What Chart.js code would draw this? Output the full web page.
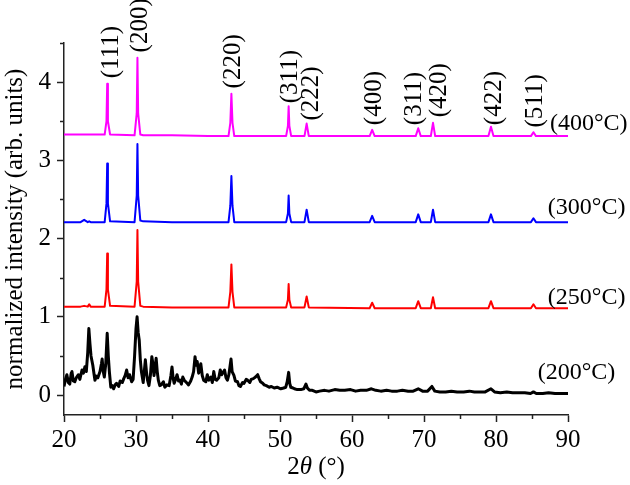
<!DOCTYPE html>
<html>
<head>
<meta charset="utf-8">
<script src="https://cdn.jsdelivr.net/npm/chart.js@4.4.1/dist/chart.umd.min.js"></script>
<style>
    html, body { margin: 0; padding: 0; background: #ffffff; }
    #wrap { width: 630px; height: 485px; position: relative; }
</style>
</head>
<body>
<div id="wrap"><canvas id="xrdChart"></canvas></div>
<script>
// shared 2-theta grid for the crystalline patterns (250, 300, 400 °C)
const twoThetaCryst = [20.0, 22.3, 22.8, 23.3, 23.5, 23.7, 25.65, 25.9, 26.0, 26.1, 26.4,
    29.8, 30.1, 30.2, 30.3, 30.6, 31.0, 35.0, 40.0, 42.85, 43.1, 43.25, 43.4, 43.65,
    50.85, 51.1, 51.2, 51.3, 51.55, 53.4, 53.7, 54.0, 62.45, 62.8, 63.15, 68.85, 69.2, 69.55,
    70.95, 71.25, 71.55, 78.95, 79.3, 79.65, 84.85, 85.2, 85.55, 90.0];

const int400 = [3.33, 3.33, 3.33, 3.33, 3.33, 3.33, 3.33, 3.50, 3.98, 3.50, 3.33,
    3.32, 3.60, 4.31, 3.60, 3.33, 3.32, 3.32, 3.31, 3.31, 3.48, 3.85, 3.48, 3.31,
    3.31, 3.44, 3.69, 3.44, 3.31, 3.31, 3.47, 3.31, 3.31, 3.39, 3.31, 3.31, 3.41, 3.31,
    3.31, 3.48, 3.31, 3.31, 3.43, 3.31, 3.31, 3.36, 3.31, 3.31];

const int300 = [2.21, 2.21, 2.24, 2.21, 2.22, 2.21, 2.21, 2.45, 2.96, 2.45, 2.22,
    2.21, 2.55, 3.21, 2.55, 2.23, 2.22, 2.21, 2.21, 2.21, 2.42, 2.80, 2.42, 2.21,
    2.21, 2.32, 2.55, 2.32, 2.21, 2.21, 2.37, 2.21, 2.21, 2.29, 2.21, 2.21, 2.31, 2.21,
    2.21, 2.37, 2.21, 2.21, 2.31, 2.21, 2.21, 2.26, 2.21, 2.21];

const int250 = [1.13, 1.13, 1.14, 1.13, 1.16, 1.13, 1.13, 1.35, 1.81, 1.35, 1.14,
    1.13, 1.45, 2.11, 1.45, 1.14, 1.13, 1.12, 1.12, 1.12, 1.32, 1.67, 1.32, 1.12,
    1.12, 1.22, 1.42, 1.22, 1.12, 1.12, 1.26, 1.12, 1.11, 1.18, 1.11, 1.11, 1.20, 1.11,
    1.11, 1.25, 1.11, 1.11, 1.20, 1.11, 1.11, 1.16, 1.11, 1.11];

// 200 °C pattern (poorly crystallised, noisy)
const twoTheta200 = [20.0, 20.2, 20.4, 20.6, 20.8, 21.0, 21.1, 21.3, 21.5, 21.7, 22.0, 22.2,
    22.5, 22.7, 22.9, 23.1, 23.3, 23.45, 23.6, 23.75, 24.0, 24.2, 24.3, 24.5, 24.7, 25.0,
    25.2, 25.3, 25.45, 25.6, 25.8, 26.0, 26.15, 26.3, 26.5, 26.7, 26.9, 27.1, 27.3, 27.6,
    27.8, 28.1, 28.3, 28.5, 28.7, 28.9, 29.1, 29.4, 29.6, 29.8, 30.0, 30.15, 30.3, 30.45,
    30.6, 30.75, 31.0, 31.2, 31.3, 31.45, 31.6, 31.8, 32.0, 32.2, 32.35, 32.5, 32.65, 32.8,
    32.95, 33.1, 33.3, 33.5, 33.8, 34.0, 34.3, 34.6, 34.85, 35.0, 35.15, 35.3, 35.5, 35.7,
    35.9, 36.1, 36.3, 36.5, 36.7, 36.9, 37.1, 37.3, 37.6, 37.8, 38.0, 38.2, 38.35, 38.5,
    38.7, 38.8, 39.0, 39.2, 39.4, 39.7, 39.9, 40.1, 40.4, 40.6, 40.8, 41.0, 41.2, 41.5,
    41.7, 41.9, 42.1, 42.3, 42.5, 42.7, 42.9, 43.2, 43.35, 43.6, 43.8, 44.1, 44.3, 44.5,
    44.8, 45.0, 45.3, 45.5, 45.8, 46.0, 46.3, 46.6, 46.9, 47.1, 47.3, 47.6, 47.8, 48.1,
    48.5, 48.8, 49.2, 49.6, 50.1, 50.5, 50.8, 51.0, 51.2, 51.35, 51.5, 51.8, 52.0, 52.4,
    52.9, 53.3, 53.6, 53.8, 54.1, 54.5, 55.0, 55.5, 56.2, 56.8, 57.6, 58.3, 59.0, 59.8,
    60.5, 61.2, 62.0, 62.7, 63.3, 64.0, 64.8, 65.5, 66.3, 67.0, 67.8, 68.5, 69.2, 69.8,
    70.5, 71.1, 71.5, 72.2, 73.0, 73.8, 74.6, 75.5, 76.3, 77.0, 77.8, 78.5, 79.3, 79.8,
    80.6, 81.5, 82.3, 83.2, 84.0, 84.8, 85.2, 85.6, 86.5, 87.3, 88.2, 89.0, 90.0];

const int200 = [0.11, 0.20, 0.26, 0.16, 0.14, 0.28, 0.30, 0.18, 0.17, 0.22, 0.26, 0.20,
    0.32, 0.28, 0.36, 0.30, 0.55, 0.85, 0.66, 0.50, 0.38, 0.25, 0.19, 0.24, 0.22, 0.30,
    0.40, 0.46, 0.30, 0.23, 0.40, 0.79, 0.50, 0.30, 0.10, 0.12, 0.08, 0.13, 0.15, 0.11,
    0.18, 0.16, 0.21, 0.25, 0.32, 0.22, 0.26, 0.17, 0.20, 0.49, 0.85, 1.00, 0.80, 0.70,
    0.45, 0.30, 0.16, 0.35, 0.45, 0.30, 0.19, 0.12, 0.25, 0.49, 0.40, 0.25, 0.35, 0.47,
    0.30, 0.19, 0.12, 0.13, 0.17, 0.10, 0.13, 0.12, 0.25, 0.36, 0.22, 0.15, 0.20, 0.26,
    0.18, 0.19, 0.14, 0.23, 0.19, 0.17, 0.15, 0.13, 0.18, 0.23, 0.30, 0.49, 0.38, 0.43,
    0.28, 0.30, 0.40, 0.25, 0.19, 0.17, 0.26, 0.19, 0.23, 0.16, 0.30, 0.20, 0.19, 0.22,
    0.32, 0.26, 0.29, 0.32, 0.22, 0.19, 0.26, 0.46, 0.30, 0.25, 0.18, 0.17, 0.12, 0.11,
    0.16, 0.15, 0.20, 0.19, 0.16, 0.20, 0.21, 0.23, 0.26, 0.21, 0.17, 0.15, 0.13, 0.12,
    0.10, 0.11, 0.09, 0.10, 0.08, 0.09, 0.10, 0.17, 0.29, 0.15, 0.10, 0.09, 0.08, 0.07,
    0.07, 0.08, 0.14, 0.09, 0.06, 0.06, 0.04, 0.05, 0.06, 0.05, 0.07, 0.06, 0.06, 0.07,
    0.05, 0.06, 0.06, 0.08, 0.06, 0.05, 0.06, 0.05, 0.05, 0.06, 0.05, 0.05, 0.08, 0.05,
    0.05, 0.11, 0.05, 0.04, 0.04, 0.05, 0.04, 0.04, 0.05, 0.04, 0.04, 0.04, 0.08, 0.04,
    0.03, 0.04, 0.03, 0.03, 0.03, 0.02, 0.04, 0.02, 0.02, 0.03, 0.02, 0.02, 0.02];

// reflection labels (Miller indices), drawn vertically
const peakLabels = ['(111)', '(200)', '(220)', '(311)', '(222)', '(400)', '(311)', '(420)', '(422)', '(511)'];
const peakLabelX = [26.65, 30.6, 43.6, 51.5, 54.3, 63.1, 68.7, 72.2, 79.8, 85.5];
const peakLabelBase = [4.05, 4.38, 3.92, 3.73, 3.51, 3.45, 3.45, 3.55, 3.45, 3.42];

// temperature labels at the right end of each pattern
const tempLabels = ['(400°C)', '(300°C)', '(250°C)', '(200°C)'];
const tempLabelX = [87.5, 87.2, 87.2, 85.8];
const tempLabelY = [3.47, 2.40, 1.25, 0.28];

const xMinorTicks = [25, 35, 45, 55, 65, 75, 85];
const yMinorTicks = [0.5, 1.5, 2.5, 3.5, 4.5];

const serif = "'Liberation Serif', 'Times New Roman', serif";
const fontSize = 25;
const axisColor = '#222222';

function toPoints(xs, ys) {
    return xs.map((x, i) => ({ x: x, y: ys[i] }));
}

const annotationsPlugin = {
    id: 'xrdAnnotations',
    afterDraw(chart) {
        const ctx = chart.ctx;
        const xs = chart.scales.x;
        const ys = chart.scales.y;
        const area = chart.chartArea;

        ctx.save();
        // minor ticks
        ctx.strokeStyle = axisColor;
        ctx.lineWidth = 1.5;
        xMinorTicks.forEach(v => {
            const px = Math.round(xs.getPixelForValue(v)) + 0.5;
            ctx.beginPath();
            ctx.moveTo(px, area.bottom);
            ctx.lineTo(px, area.bottom + 4);
            ctx.stroke();
        });
        yMinorTicks.forEach(v => {
            const py = Math.round(ys.getPixelForValue(v)) + 0.5;
            ctx.beginPath();
            ctx.moveTo(area.left, py);
            ctx.lineTo(area.left - 4, py);
            ctx.stroke();
        });

        // peak labels
        ctx.fillStyle = '#000000';
        ctx.font = fontSize + 'px ' + serif;
        ctx.textAlign = 'left';
        ctx.textBaseline = 'middle';
        peakLabels.forEach((txt, i) => {
            const px = xs.getPixelForValue(peakLabelX[i]);
            const py = ys.getPixelForValue(peakLabelBase[i]);
            ctx.save();
            ctx.translate(px, py);
            ctx.rotate(-Math.PI / 2);
            ctx.fillText(txt, 0, 0);
            ctx.restore();
        });

        // temperature labels
        ctx.font = '24px ' + serif;
        tempLabels.forEach((txt, i) => {
            ctx.fillText(txt, xs.getPixelForValue(tempLabelX[i]), ys.getPixelForValue(tempLabelY[i]));
        });

        // x axis title: 2θ (°) with italic theta
        const parts = [['2', ''], ['\u03B8', 'italic '], [' (°)', '']];
        let total = 0;
        parts.forEach(p => { ctx.font = p[1] + fontSize + 'px ' + serif; total += ctx.measureText(p[0]).width; });
        let cx = (area.left + area.right) / 2 - total / 2;
        const ty = 467;
        parts.forEach(p => {
            ctx.font = p[1] + fontSize + 'px ' + serif;
            ctx.fillText(p[0], cx, ty);
            cx += ctx.measureText(p[0]).width;
        });
        ctx.restore();
    }
};

const ctx = document.getElementById('xrdChart').getContext('2d');
new Chart(ctx, {
    type: 'line',
    data: {
        datasets: [
            { label: '200', data: toPoints(twoTheta200, int200), borderColor: '#000000', borderWidth: 3 },
            { label: '250', data: toPoints(twoThetaCryst, int250), borderColor: '#ff0000', borderWidth: 2 },
            { label: '300', data: toPoints(twoThetaCryst, int300), borderColor: '#0000ff', borderWidth: 2 },
            { label: '400', data: toPoints(twoThetaCryst, int400), borderColor: '#ff00ff', borderWidth: 2 }
        ]
    },
    options: {
        responsive: true,
        maintainAspectRatio: false,
        animation: false,
        events: [],
        layout: { padding: { top: 43, right: 62, left: 0, bottom: 0 } },
        elements: {
            point: { radius: 0 },
            line: { tension: 0, borderJoinStyle: 'round' }
        },
        plugins: {
            legend: { display: false },
            tooltip: { enabled: false }
        },
        scales: {
            x: {
                type: 'linear',
                min: 20,
                max: 90,
                ticks: {
                    stepSize: 10,
                    color: '#000000',
                    font: { family: serif, size: fontSize },
                    padding: 3,
                    maxRotation: 0
                },
                grid: {
                    drawOnChartArea: false,
                    drawTicks: true,
                    tickLength: 7,
                    tickColor: axisColor,
                    tickWidth: 1.5
                },
                border: { color: axisColor, width: 1.5 },
                afterFit(scale) { scale.height = 70; }
            },
            y: {
                type: 'linear',
                min: -0.255,
                max: 4.5,
                ticks: {
                    stepSize: 1,
                    includeBounds: false,
                    color: '#000000',
                    font: { family: serif, size: fontSize },
                    padding: 6
                },
                grid: {
                    drawOnChartArea: false,
                    drawTicks: true,
                    tickLength: 7,
                    tickColor: axisColor,
                    tickWidth: 1.5
                },
                border: { color: axisColor, width: 1.5 },
                title: {
                    display: true,
                    text: 'normalized intensity (arb. units)',
                    color: '#000000',
                    font: { family: serif, size: fontSize },
                    padding: { top: 0, bottom: 0 }
                },
                afterFit(scale) { scale.width = 64; }
            }
        }
    },
    plugins: [annotationsPlugin]
});
</script>
</body>
</html>
